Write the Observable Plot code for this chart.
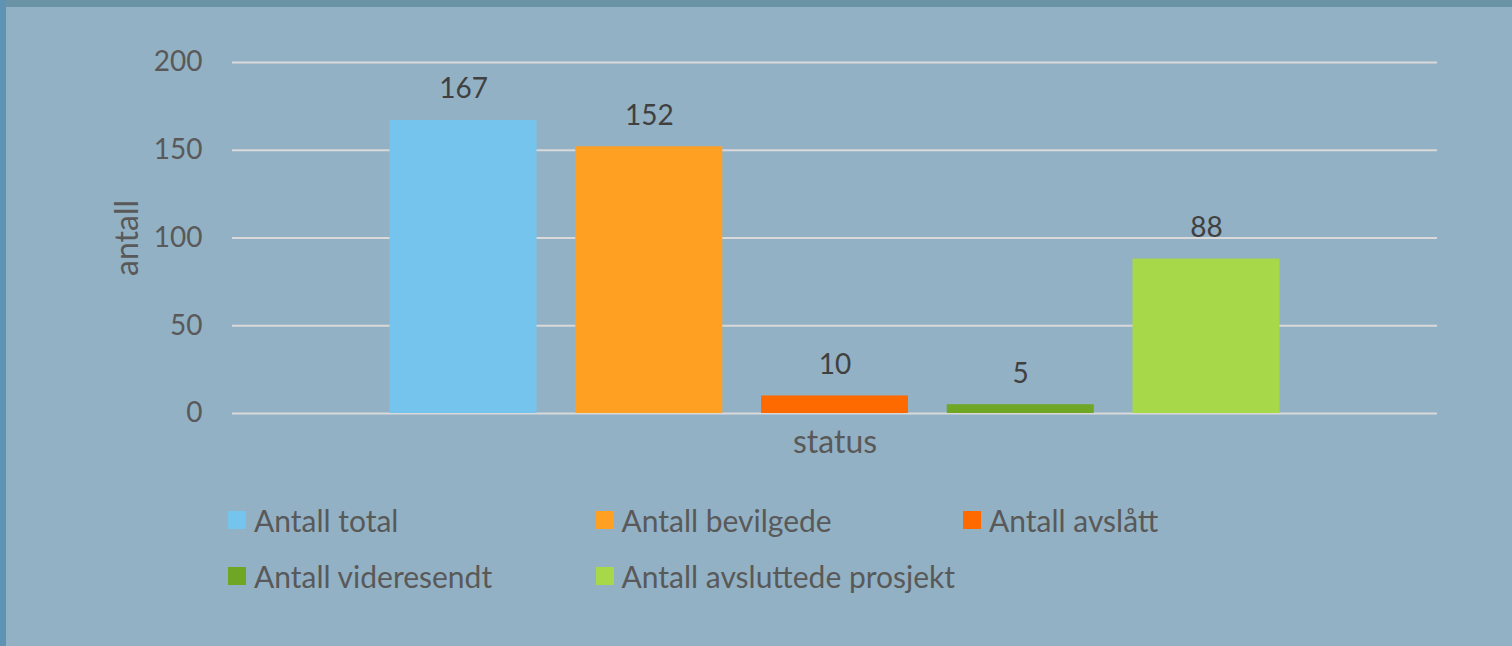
<!DOCTYPE html>
<html>
<head>
<meta charset="utf-8">
<script src="https://cdn.jsdelivr.net/npm/d3@7"></script>
<script src="https://cdn.jsdelivr.net/npm/@observablehq/plot@0.6"></script>
<style>
  html, body { margin: 0; padding: 0; background: #93b1c4; width: 1512px; height: 646px; overflow: hidden; }
  #wrap { position: relative; width: 1512px; height: 646px; font-family: Lato, "Open Sans", sans-serif; }
  #chart { position: absolute; left: 0; top: 0; }
  #legend { position: absolute; left: 0; top: 0; width: 1512px; height: 646px; pointer-events: none; }
  .item { position: absolute; display: flex; align-items: center; font-size: 30px; color: #595959; white-space: nowrap; }
  .sw { width: 18px; height: 18px; margin-right: 8px; }
  #btop { position: absolute; left: 0; top: 0; width: 1512px; height: 7px; background: #6a93a6; }
  #bleft { position: absolute; left: 0; top: 0; width: 6px; height: 646px; background: #5e93b3; }
</style>
</head>
<body>
<div id="wrap">
  <div id="chart"></div>
  <div id="legend"></div>
  <div id="btop"></div>
  <div id="bleft"></div>
</div>
<script>
const series = ["Antall total", "Antall bevilgede", "Antall avslått", "Antall videresendt", "Antall avsluttede prosjekt"];
const values = [167, 152, 10, 5, 88];
const colors = ["#75c4ed", "#ffa022", "#ff6a00", "#6fa624", "#a6d84a"];
const yTicks = [0, 50, 100, 150, 200];
const xLabel = "status";
const yLabel = "antall";

const data = series.map((s, i) => ({series: s, value: values[i]}));

const plot = Plot.plot({
  width: 1512,
  height: 480,
  marginTop: 62,
  marginBottom: 67,
  marginLeft: 232,
  marginRight: 75,
  style: {background: "transparent", fontFamily: "Lato, 'Open Sans', sans-serif", fontSize: "28px", color: "#595959"},
  x: {domain: series, paddingInner: 0.2086, paddingOuter: 0.848, round: false, axis: null},
  y: {domain: [0, 200], axis: null},
  color: {domain: series, range: colors},
  marks: [
    Plot.ruleY(yTicks, {stroke: "#d9d9d9", strokeWidth: 2}),
    Plot.axisY(yTicks, {tickSize: 0, tickPadding: 30, fill: "#595959", fontSize: 28, label: null}),
    Plot.barY(data, {x: "series", y: "value", fill: "series"}),
    Plot.text(data, {x: "series", y: "value", text: d => String(d.value), dy: -31, lineAnchor: "middle", fill: "#404040", fontSize: 28}),
    Plot.text([xLabel], {frameAnchor: "bottom", dy: 29, textAnchor: "middle", lineAnchor: "middle", fill: "#595959", fontSize: 32}),
    Plot.text([yLabel], {frameAnchor: "left", dx: -105, rotate: -90, textAnchor: "middle", lineAnchor: "middle", fill: "#595959", fontSize: 32})
  ]
});
document.getElementById("chart").appendChild(plot);

const legend = document.getElementById("legend");
series.forEach((s, i) => {
  const col = i % 3, row = Math.floor(i / 3);
  const it = document.createElement("div");
  it.className = "item";
  it.style.left = (228 + col * 367.5) + "px";
  it.style.top = (500 + row * 56) + "px";
  it.style.height = "40px";
  const sw = document.createElement("div");
  sw.className = "sw";
  sw.style.background = colors[i];
  const tx = document.createElement("span");
  tx.textContent = s;
  it.appendChild(sw);
  it.appendChild(tx);
  legend.appendChild(it);
});
</script>
</body>
</html>
